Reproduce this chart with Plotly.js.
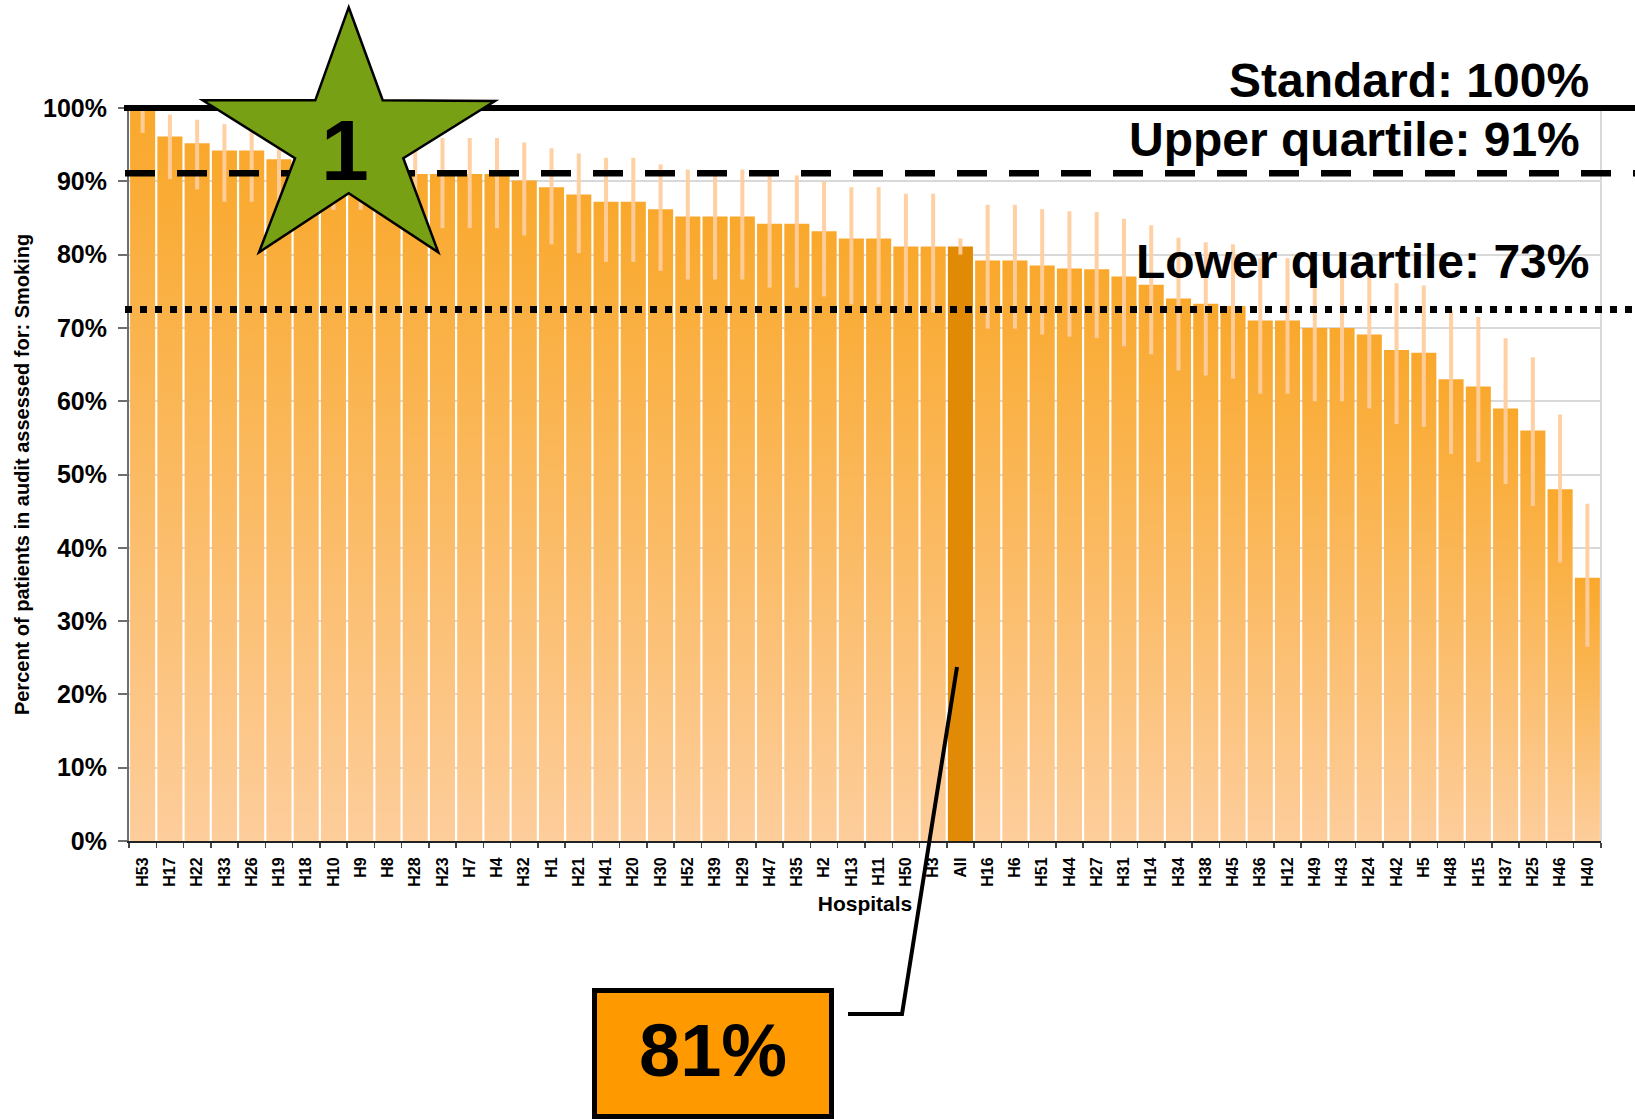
<!DOCTYPE html>
<html><head><meta charset="utf-8">
<script src="https://cdn.plot.ly/plotly-3.0.1.min.js"></script>
<style>html,body{margin:0;padding:0;background:#fff}#chart{width:1635px;height:1119px}</style>
</head><body><div id="chart"></div>
<script>
// ---------- DATA ----------
const categories = ['H53','H17','H22','H33','H26','H19','H18','H10','H9','H8','H28','H23','H7','H4','H32','H1','H21','H41','H20','H30','H52','H39','H29','H47','H35','H2','H13','H11','H50','H3','All','H16','H6','H51','H44','H27','H31','H14','H34','H38','H45','H36','H12','H49','H43','H24','H42','H5','H48','H15','H37','H25','H46','H40'];
const values = [100,96.1,95.2,94.2,94.2,93.0,93.0,92.5,92.5,92.0,91.0,91.0,91.0,91.0,90.1,89.2,88.2,87.2,87.2,86.2,85.2,85.2,85.2,84.2,84.2,83.2,82.2,82.2,81.1,81.1,81.1,79.2,79.2,78.5,78.1,78.0,77.0,75.9,74.0,73.3,73.0,71.0,71.0,70.0,70.0,69.1,67.0,66.6,63.0,62.0,59.0,56.0,48.0,35.9];
const upperCI = [100,99.1,98.4,97.8,97.5,97.0,96.8,96.5,96.5,96.2,95.9,95.9,95.9,95.9,95.3,94.5,93.8,93.2,93.2,92.3,91.6,90.9,91.6,90.8,90.8,90.0,89.2,89.2,88.3,88.3,82.2,86.8,86.8,86.2,85.9,85.8,84.9,84.0,82.3,81.7,81.4,79.5,79.5,78.7,78.7,77.1,76.1,75.8,72.4,71.5,68.6,66.0,58.2,46.0];
const lowerCI = [96.6,90.3,88.9,87.2,87.2,87.0,86.8,86.1,86.1,85.0,83.6,83.6,83.6,83.6,82.6,81.4,80.2,79.0,79.0,77.8,76.6,76.6,76.6,75.5,75.5,74.3,73.2,73.2,72.1,72.1,80.0,69.9,69.9,69.1,68.8,68.6,67.5,66.4,64.2,63.5,63.1,61.0,61.0,60.0,60.0,59.0,56.9,56.5,52.8,51.7,48.7,45.7,38.0,26.5];
const standardValue = 100;
const upperQuartile = 91.1;
const lowerQuartile = 72.5;
const allLabel = 'All';
const starRank = '1';
const yTitle = 'Percent of patients in audit assessed for: Smoking';
const xTitle = 'Hospitals';
const yRange = [0, 100];

// ---------- LAYOUT HELPERS ----------
const W = 1635, H = 1119, M = {l:129, r:34, t:108, b:278};
const pw = W - M.l - M.r, ph = H - M.t - M.b;
const px = x => (x - M.l) / pw;
const py = y => (H - M.b - y) / ph;
const vy = v => (v - yRange[0]) / (yRange[1] - yRange[0]);   // data value -> paper fraction (unclipped)
const FONT = 'Liberation Sans, Arial, Helvetica, sans-serif';
const allIndex = categories.indexOf(allLabel);
const allValue = values[allIndex];

const barColors = categories.map(c => c === allLabel ? '#E08A06' : '#F9A82E');

const trace = {
  type: 'bar',
  x: categories,
  y: values,
  marker: {color: barColors, line: {width: 0}},
  error_y: {
    type: 'data', symmetric: false, visible: true,
    array: upperCI.map((u, i) => u - values[i]),
    arrayminus: lowerCI.map((l, i) => values[i] - l),
    color: 'rgba(255,206,158,0.95)', thickness: 4, width: 0
  },
  hoverinfo: 'x+y'
};

function pathFrom(pts, close) {
  return pts.map((p, i) => (i ? 'L' : 'M') + px(p[0]).toFixed(5) + ',' + py(p[1]).toFixed(5)).join(' ') + (close ? ' Z' : '');
}
const starPts = [[348.7,7.3],[382.7,100.3],[495,101],[403.3,158.3],[438.3,252.3],[348.7,193.3],[259,252.3],[295,158.3],[202.7,100.3],[315.3,100.3]];
const calloutPts = [[848,1014],[902,1014],[957,667]];

const shapes = [
  {type:'line', xref:'paper', yref:'paper', x0:1, x1:1, y0:0, y1:1, line:{color:'#D9D9D9', width:2}},
  {type:'line', xref:'paper', yref:'paper', x0:px(124), x1:px(1635), y0:vy(standardValue), y1:vy(standardValue), line:{color:'#000', width:6}},
  {type:'line', xref:'paper', yref:'paper', x0:px(125), x1:px(1635), y0:vy(upperQuartile), y1:vy(upperQuartile), line:{color:'#000', width:6.5, dash:'30px,22px'}},
  {type:'line', xref:'paper', yref:'paper', x0:px(125), x1:px(1635), y0:vy(lowerQuartile), y1:vy(lowerQuartile), line:{color:'#000', width:7, dash:'7px,8px'}},
  {type:'path', xref:'paper', yref:'paper', path: pathFrom(starPts, true), fillcolor:'#77A014', line:{color:'#000', width:2.5}},
  {type:'path', xref:'paper', yref:'paper', path: pathFrom(calloutPts, false), line:{color:'#000', width:4}},
  {type:'rect', xref:'paper', yref:'paper', x0:px(594.5), x1:px(831.5), y0:py(990.5), y1:py(1116.5), fillcolor:'#FF9900', line:{color:'#000', width:5}}
];

const bigFont = {family: FONT, size: 48, color: '#000', weight: 'bold'};
const annotations = [
  {xref:'paper', yref:'paper', x:px(1591), y:py(80), xanchor:'right', yanchor:'middle', showarrow:false, text:'Standard: ' + standardValue + '%', font:bigFont},
  {xref:'paper', yref:'paper', x:px(1582), y:py(139), xanchor:'right', yanchor:'middle', showarrow:false, text:'Upper quartile: ' + Math.round(upperQuartile) + '%', font:bigFont},
  {xref:'paper', yref:'paper', x:px(1591), y:py(261.5), xanchor:'right', yanchor:'middle', showarrow:false, text:'Lower quartile: ' + Math.round(lowerQuartile) + '%', font:bigFont},
  {xref:'paper', yref:'paper', x:px(345), y:py(150), xanchor:'center', yanchor:'middle', showarrow:false, text:starRank, font:{family:FONT, size:86, color:'#000', weight:'bold'}},
  {xref:'paper', yref:'paper', x:px(713), y:py(1050), xanchor:'center', yanchor:'middle', showarrow:false, text:Math.round(allValue) + '%', font:{family:FONT, size:74, color:'#000', weight:'bold'}}
];

const layout = {
  width: W, height: H,
  margin: {l:M.l, r:M.r, t:M.t, b:M.b, pad:0},
  paper_bgcolor: '#fff', plot_bgcolor: '#fff',
  showlegend: false,
  bargap: 0.08,
  font: {family: FONT, color: '#000'},
  xaxis: {
    type: 'category', tickangle: -90,
    tickfont: {family: FONT, size: 16, color: '#000', weight: 'bold'},
    ticks: 'outside', tickson: 'boundaries', ticklen: 5, tickcolor: '#444', tickwidth: 1.5,
    ticklabelstandoff: 8,
    showline: true, linecolor: '#222', linewidth: 2,
    showgrid: false, zeroline: false,
    title: {text: xTitle, font: {family: FONT, size: 21, color: '#000', weight: 'bold'}, standoff: 11},
    automargin: false
  },
  yaxis: {
    range: yRange, dtick: 10, ticksuffix: '%',
    tickfont: {family: FONT, size: 25, color: '#000', weight: 'bold'},
    ticks: 'outside', ticklen: 9, tickcolor: '#6E6E6E', tickwidth: 2, ticklabelstandoff: 6,
    showline: true, linecolor: '#6E6E6E', linewidth: 2,
    showgrid: true, gridcolor: '#D9D9D9', gridwidth: 2, zeroline: false,
    title: {text: yTitle, font: {family: FONT, size: 20, color: '#000', weight: 'bold'}, standoff: 8},
    automargin: false
  },
  shapes: shapes,
  annotations: annotations
};

function applyGradient(gd) {
  const svg = gd.querySelector('svg.main-svg');
  if (!svg) return;
  const NS = 'http://www.w3.org/2000/svg';
  if (!document.getElementById('barGrad')) {
    let defs = svg.querySelector('defs');
    if (!defs) { defs = document.createElementNS(NS, 'defs'); svg.insertBefore(defs, svg.firstChild); }
    const g = document.createElementNS(NS, 'linearGradient');
    g.setAttribute('id', 'barGrad');
    g.setAttribute('x1', '0'); g.setAttribute('y1', '0'); g.setAttribute('x2', '0'); g.setAttribute('y2', '1');
    [['0', '#F9A82B'], ['1', '#FDCD9B']].forEach(([o, c]) => {
      const s = document.createElementNS(NS, 'stop');
      s.setAttribute('offset', o); s.setAttribute('stop-color', c);
      g.appendChild(s);
    });
    defs.appendChild(g);
  }
  const paths = gd.querySelectorAll('.barlayer .trace .points .point path');
  paths.forEach((p, i) => { if (i !== allIndex) p.style.fill = 'url(#barGrad)'; });
}

Plotly.newPlot('chart', [trace], layout, {staticPlot: true, displayModeBar: false}).then(gd => {
  applyGradient(gd);
  gd.on && gd.on('plotly_afterplot', () => applyGradient(gd));
});
</script>
</body></html>
